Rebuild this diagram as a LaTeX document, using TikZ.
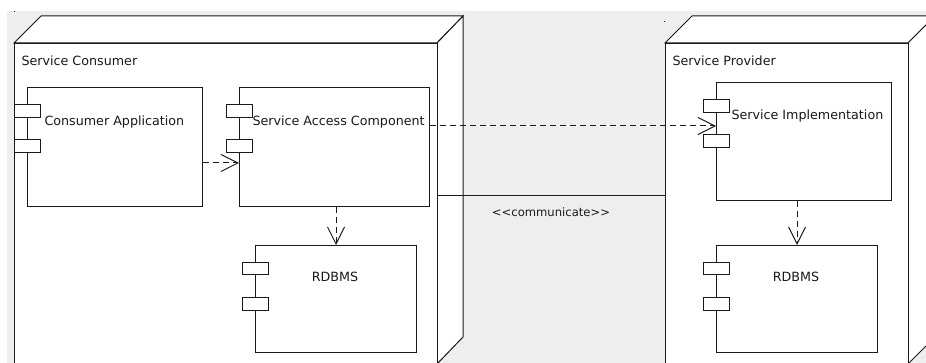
\documentclass[tikz,border=0pt]{standalone}
\usepackage{fontspec}
\setmainfont{DejaVu Sans}
\usetikzlibrary{arrows.meta,calc}
\definecolor{bg}{HTML}{EEEEEE}
\definecolor{ln}{HTML}{1A1A1A}
\begin{document}
\begin{tikzpicture}[x=1pt,y=-1pt,line width=1pt,draw=ln,
  comp/.style={draw=ln,fill=white,rectangle,inner sep=0pt,anchor=north west},
  depnode/.style={draw=ln,fill=white,rectangle,inner sep=0pt,anchor=north west},
  port/.style={draw=ln,fill=white},
  lbl/.style={font=\fontsize{12.7}{14}\selectfont,inner sep=0pt,text=ln},
  dep/.style={dash pattern=on 6pt off 4pt,-{Straight Barb[length=17pt,width=17pt]}}
]
\useasboundingbox (0,0) rectangle (926,363);
\clip (0,0) rectangle (926,363);
\fill[white] (0,0) rectangle (926,363);
\fill[bg] (7,11) rectangle (926,363);
\fill[ln] (13.5,11.5) rectangle (14.5,12.5);
\fill[ln] (663.5,21.5) rectangle (664.5,22.5);

% Service Consumer node
\filldraw[fill=white] (14,43) -- (41,16) -- (463,16) -- (437,43) -- cycle;
\filldraw[fill=white] (437,43) -- (463,16) -- (463,337) -- (437,364) -- cycle;
\node[depnode,minimum width=423pt,minimum height=340pt] (cons) at (14,43) {};
\node[lbl,anchor=base west] (consL) at (21,66) {Service Consumer};

% Service Provider node
\filldraw[fill=white] (665,43) -- (692,16) -- (935,16) -- (908,43) -- cycle;
\filldraw[fill=white] (908,43) -- (935,16) -- (935,337) -- (908,364) -- cycle;
\node[depnode,minimum width=243pt,minimum height=340pt] (prov) at (665,43) {};
\node[lbl,anchor=base west] (provL) at (672,66) {Service Provider};

% components
\node[comp,minimum width=175pt,minimum height=119pt] (ca) at (27,87) {};
\node[comp,minimum width=190pt,minimum height=119pt] (sac) at (239,87) {};
\node[comp,minimum width=161pt,minimum height=107pt] (rdb1) at (255,245) {};
\node[comp,minimum width=175pt,minimum height=118pt] (si) at (716,82) {};
\node[comp,minimum width=161pt,minimum height=107pt] (rdb2) at (716,245) {};

\foreach \n/\a in {ca/18,sac/18,si/18,rdb1/17.5,rdb2/17.5}{
  \draw[port] ($(\n.north west)+(-13,\a)$) rectangle ++(26,12.5);
  \draw[port] ($(\n.north west)+(-13,53)$) rectangle ++(26,12.5);
}

\node[lbl,anchor=base west] (caL) at (44,126) {Consumer Application};
\node[lbl,anchor=base west] (sacL) at (252,126) {Service Access Component};
\node[lbl,anchor=base west] (siL) at (731,120) {Service Implementation};
\node[lbl,anchor=base] (rdb1L) at (335,282) {RDBMS};
\node[lbl,anchor=base] (rdb2L) at (796,282) {RDBMS};

% dependencies
\draw[dep] ($(ca.north east)+(0,76)$) -- ($(sac.north west)+(0,76)$);
\draw[dep] ($(sac.north east)+(0,39)$) -- ($(si.north west)+(0,44)$);
\draw[dep] (rdb1.north |- sac.south) -- (rdb1.north);
\draw[dep] (rdb2.north |- si.south) -- (rdb2.north);

% communication path
\coordinate (cR) at ($(cons.north east)+(0,153)$);
\coordinate (pL) at ($(prov.north west)+(0,153)$);
\draw (cR) -- (pL);
\node[lbl,font=\fontsize{11.6}{13}\selectfont,anchor=base] (commL) at (551,217) {<{}<communicate>{}>};
\end{tikzpicture}
\end{document}
